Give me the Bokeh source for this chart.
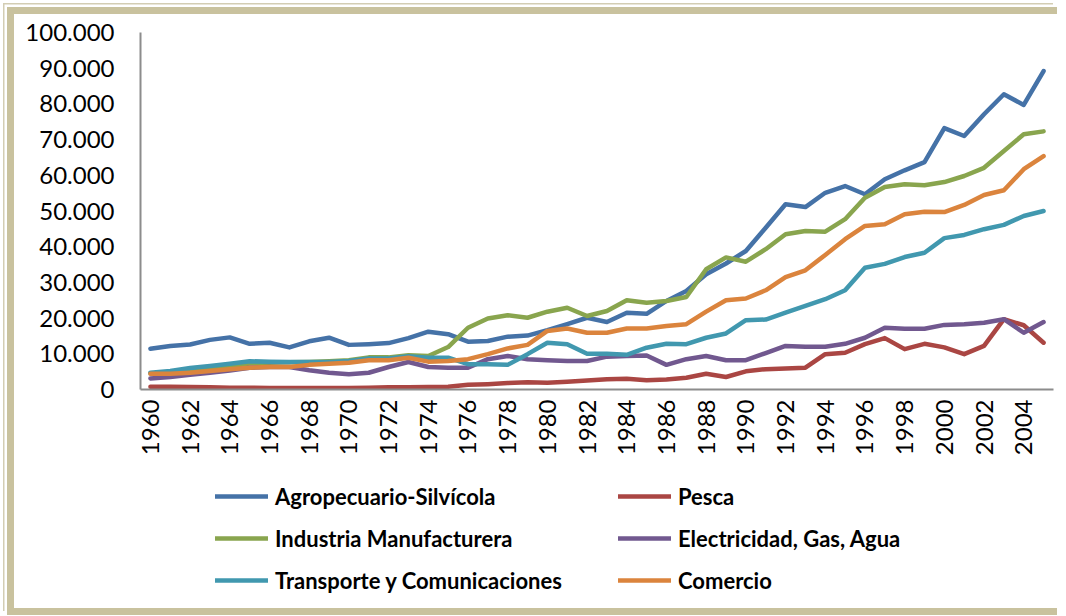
import math
from bokeh.plotting import figure
from bokeh.layouts import column
from bokeh.models import FixedTicker, Legend, LegendItem, GlobalInlineStyleSheet
from bokeh.embed import file_html
from bokeh.resources import INLINE

years = list(range(1960, 2006))

# values in thousands
agropecuario = [11.4, 12.2, 12.6, 13.9, 14.6, 12.8, 13.1, 11.8, 13.5, 14.5,
                12.5, 12.7, 13.0, 14.4, 16.2, 15.5, 13.4, 13.6, 14.8, 15.1,
                16.6, 18.3, 20.1, 18.9, 21.5, 21.2, 24.8, 27.6, 32.3, 35.3,
                38.8, 45.3, 51.9, 51.1, 55.1, 57.0, 54.7, 58.9, 61.4, 63.7,
                73.2, 71.0, 77.1, 82.7, 79.7, 89.2]
pesca = [0.8, 0.8, 0.7, 0.6, 0.5, 0.5, 0.4, 0.4, 0.4, 0.4,
         0.4, 0.5, 0.6, 0.6, 0.7, 0.8, 1.3, 1.5, 1.8, 2.0,
         1.9, 2.2, 2.5, 2.9, 3.0, 2.6, 2.8, 3.3, 4.4, 3.5,
         5.1, 5.7, 5.9, 6.1, 9.9, 10.3, 12.7, 14.4, 11.3, 12.8,
         11.8, 9.9, 12.2, 19.7, 18.0, 13.1]
industria = [4.5, 4.9, 5.5, 6.0, 6.6, 7.3, 7.5, 7.6, 7.7, 7.9,
             8.2, 9.0, 9.0, 9.6, 9.4, 11.9, 17.3, 19.9, 20.8, 20.1,
             21.8, 22.9, 20.6, 22.0, 25.0, 24.3, 24.8, 25.9, 33.7, 37.0,
             35.8, 39.3, 43.5, 44.4, 44.2, 47.7, 53.7, 56.7, 57.5, 57.2,
             58.1, 59.8, 62.1, 66.8, 71.5, 72.3]
electricidad = [3.1, 3.5, 4.1, 4.7, 5.3, 6.1, 6.3, 6.3, 5.4, 4.7,
                4.3, 4.7, 6.3, 7.7, 6.3, 6.1, 6.1, 8.5, 9.4, 8.5,
                8.2, 8.0, 8.0, 9.2, 9.4, 9.5, 6.9, 8.5, 9.4, 8.2,
                8.2, 10.2, 12.2, 12.0, 12.0, 12.8, 14.5, 17.3, 17.0, 17.0,
                18.1, 18.3, 18.7, 19.7, 15.9, 18.9]
transporte = [4.7, 5.2, 6.0, 6.6, 7.2, 7.9, 7.8, 7.7, 7.7, 7.7,
              8.0, 8.7, 8.7, 9.3, 8.9, 8.9, 7.1, 7.1, 6.9, 9.9,
              13.1, 12.7, 10.0, 10.0, 9.7, 11.7, 12.8, 12.7, 14.5, 15.7,
              19.4, 19.6, 21.5, 23.4, 25.3, 27.8, 34.1, 35.2, 37.1, 38.3,
              42.4, 43.3, 44.9, 46.1, 48.6, 50.0]
comercio = [4.4, 4.4, 4.7, 5.2, 5.7, 6.1, 6.3, 6.3, 6.9, 7.2,
            7.5, 8.2, 8.2, 8.9, 7.8, 8.0, 8.5, 9.9, 11.5, 12.5,
            16.4, 17.1, 15.9, 15.9, 17.1, 17.1, 17.8, 18.3, 21.8, 25.0,
            25.5, 27.8, 31.5, 33.4, 37.7, 42.1, 45.8, 46.3, 49.1, 49.8,
            49.7, 51.7, 54.5, 55.8, 61.7, 65.4]

series_names = ["Agropecuario-Silvícola", "Pesca", "Industria Manufacturera",
                "Electricidad, Gas, Agua", "Transporte y Comunicaciones", "Comercio"]
series_values = [agropecuario, pesca, industria, electricidad, transporte, comercio]
series_colors = ["#4572A7", "#AA4643", "#89A54E", "#71588F", "#4198AF", "#DB843D"]

y_ticks = [0, 10, 20, 30, 40, 50, 60, 70, 80, 90, 100]
y_tick_labels = ["0", "10.000", "20.000", "30.000", "40.000", "50.000",
                 "60.000", "70.000", "80.000", "90.000", "100.000"]
x_ticks = list(range(1960, 2005, 2))

TAN = "#C9C29E"
THIN = "#D3CDB3"
BORDER = "7px solid " + TAN

# main chart
p = figure(width=1050, height=466, output_backend="svg", toolbar_location=None,
           x_range=(1959.5, 2005.5), y_range=(0, 100),
           min_border_left=126, min_border_right=11, min_border_top=18,
           min_border_bottom=91,
           background_fill_color="white", border_fill_color="white",
           outline_line_color=None)
p.styles = {"border-left": BORDER, "border-top": BORDER, "overflow": "hidden"}
p.grid.visible = False

renderers = []
for name, vals, col in zip(series_names, series_values, series_colors):
    r = p.line(years, vals, line_color=col, line_width=4.5,
               line_cap="round", line_join="round")
    renderers.append(r)

for ax in (p.xaxis[0], p.yaxis[0]):
    ax.axis_line_color = "#8C8C8C"
    ax.axis_line_width = 2
    ax.major_tick_line_color = None
    ax.minor_tick_line_color = None
    ax.major_tick_out = 0
    ax.major_tick_in = 0
    ax.major_label_text_font = "Lato"
    ax.major_label_text_font_size = "24px"
    ax.major_label_text_color = "#000000"

p.yaxis.ticker = FixedTicker(ticks=y_ticks)
p.yaxis.major_label_overrides = {t: l for t, l in zip(y_ticks, y_tick_labels)}
p.yaxis.major_label_standoff = 26

p.xaxis.ticker = FixedTicker(ticks=x_ticks)
p.xaxis.major_label_orientation = math.pi / 2
p.xaxis.major_label_standoff = 10

# legend panel (its frame is aligned with the chart's frame by the column)
q = figure(width=1050, height=142, output_backend="svg", toolbar_location=None,
           x_range=(0, 1), y_range=(0, 1), min_border=0,
           x_axis_location=None, y_axis_location=None,
           background_fill_color="white", border_fill_color="white",
           outline_line_color=None)
q.styles = {"border-left": BORDER, "border-bottom": BORDER, "overflow": "hidden"}
q.grid.visible = False

legend_renderers = []
for name, vals, col in zip(series_names, series_values, series_colors):
    # same series, outside this panel's ranges: only its legend swatch shows
    lr = q.line(years, vals, line_color=col, line_width=4.5, line_cap="round")
    legend_renderers.append(lr)


def make_legend(idx, loc):
    return Legend(items=[LegendItem(label=series_names[i], renderers=[legend_renderers[i]]) for i in idx],
                  location=loc, orientation="vertical",
                  glyph_width=53, glyph_height=42, label_height=42,
                  label_standoff=7, spacing=0, padding=0, margin=0,
                  border_line_color=None, background_fill_alpha=0,
                  label_text_font="Lato", label_text_font_style="bold",
                  label_text_font_size="22px", label_text_color="#000000")


q.add_layout(make_legend([0, 2, 4], (75, 14)), "center")
q.add_layout(make_legend([1, 3, 5], (478, 14)), "center")

layout = column(p, q, spacing=0,
                styles={"margin-left": "7px", "margin-top": "7px", "overflow": "hidden",
                        "box-shadow": f"-2.5px -2.5px 0 0 white, -4px -4px 0 0 {THIN}"},
                stylesheets=[GlobalInlineStyleSheet(css="html, body { overflow: hidden; }")])
open("out.html", "w").write(file_html(layout, INLINE))
